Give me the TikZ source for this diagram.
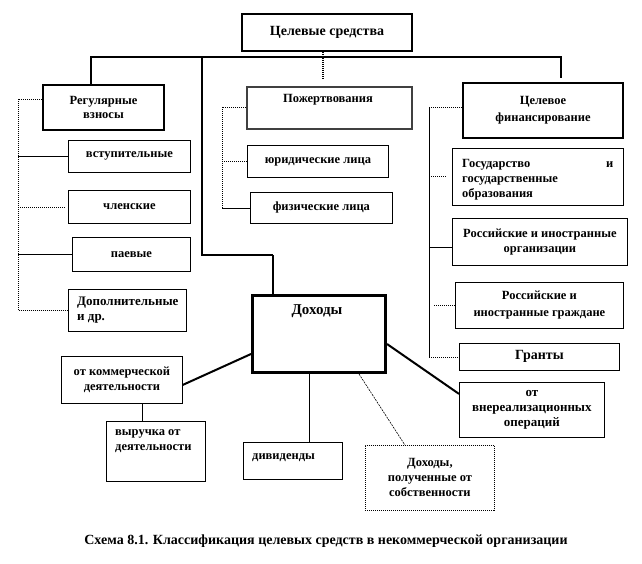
\documentclass[tikz,border=0pt]{standalone}
\usepackage{fontspec}
\setmainfont{Liberation Serif}
\begin{document}
\begin{tikzpicture}[x=1pt,y=-1pt,
  bx/.style={draw, line width=0.8pt, fill=white, anchor=north west, inner sep=0pt, align=center,
    font=\bfseries\fontsize{12.5}{15}\selectfont},
  hd/.style={bx, line width=2pt, font=\bfseries\fontsize{14}{17}\selectfont},
  txt/.style={inner sep=0pt, font=\bfseries\fontsize{12.5}{15}\selectfont},
  dots/.style={line width=0.8pt, dash pattern=on 1pt off 1pt},
  bus/.style={line width=2.4pt},
  thk/.style={line width=2pt},
  ln/.style={line width=0.8pt}]
\useasboundingbox (0,0) rectangle (642,564);
% top level
\node[hd, minimum width=170, minimum height=37] (top) at (241,13) {Целевые средства};
\node[hd, minimum width=121, minimum height=45, font=\bfseries\fontsize{12.5}{14}\selectfont] (reg) at (42,84) {Регулярные\\взносы};
\node[hd, draw=black!75, minimum width=165, minimum height=42] (pozh) at (246,86) {};
\node[txt] (pozhT) at (328,100) {Пожертвования};
\node[hd, minimum width=160, minimum height=55, font=\bfseries\fontsize{12.5}{17}\selectfont] (celfin) at (462,82) {Целевое\\финансирование};
% bus
\coordinate (busL) at (91,57);
\coordinate (busR) at (561,57);
\coordinate (busRend) at (561,78);
\coordinate (vL) at (202,57);
\coordinate (vK) at (202,255);
\coordinate (dohIn) at (273,255);
\coordinate (cd) at (323,80);
\draw[bus] (busL |- reg.north) -- (busL) -- (busR) -- (busRend);
\draw[thk] (vL) -- (vK) -- (dohIn);
\draw[line width=2.4pt, dash pattern=on 1pt off 1pt] (cd |- top.south) -- (cd);
% regular contributions
\node[bx, minimum width=122, minimum height=32] (vst) at (68,140) {вступительные};
\node[bx, minimum width=122, minimum height=33] (chl) at (68,190) {членские};
\node[bx, minimum width=118, minimum height=34] (pae) at (72,237) {паевые};
\node[bx, minimum width=118, minimum height=42] (dop) at (68,289) {};
\node[txt, anchor=west, align=left, font=\bfseries\fontsize{13}{15}\selectfont] (dopT) at (77,310) {Дополнительные\\и др.};
\coordinate (rb) at (18,99);
\draw[dots] (reg.west |- rb) -- (rb) -- (rb |- dop.west) -- (dop.west);
\draw[ln] (rb |- vst.west) -- (vst.west);
\draw[dots] (rb |- chl.west) -- ([xshift=-3pt]chl.west);
\draw[ln] (rb |- pae.west) -- (pae.west);
% donations
\node[bx, minimum width=141, minimum height=32] (yur) at (247,145) {юридические лица};
\node[bx, minimum width=142, minimum height=31] (fiz) at (250,192) {физические лица};
\coordinate (pb) at (222,107);
\draw[dots] (pozh.west |- pb) -- (pb) -- (pb |- fiz.west);
\draw[ln] (pb |- fiz.west) -- (fiz.west);
\draw[dots] (pb |- yur.west) -- (yur.west);
% targeted financing
\node[bx, minimum width=171, minimum height=57] (gos) at (452,148) {};
\node[txt, anchor=north west, align=left, font=\bfseries\fontsize{12.5}{15}\selectfont] (gosT) at (462,159) {\hbox to 151pt{Государство\hfill и}\\государственные\\образования};
\node[bx, minimum width=175, minimum height=47] (rosorg) at (452,218) {Российские и иностранные\\организации};
\node[bx, minimum width=168, minimum height=46, font=\bfseries\fontsize{12.5}{17}\selectfont] (rosgr) at (455,282) {Российские и\\иностранные граждане};
\node[bx, minimum width=160, minimum height=27, font=\bfseries\fontsize{14}{17}\selectfont] (granty) at (459,343) {Гранты};
\coordinate (cb) at (429,107);
\draw[dots] (celfin.west |- cb) -- (cb);
\draw[ln, line width=0.6pt] (cb) -- (cb |- granty.west);
\draw[dots] (cb |- granty.west) -- (granty.west);
\draw[dots] ([xshift=2pt]cb |- gos.west) -- ([xshift=-5pt]gos.west);
\draw[ln] ([yshift=-5pt]cb |- rosorg.west) -- ([yshift=-5pt]rosorg.west);
\draw[dots] ([xshift=5pt]cb |- rosgr.west) -- (rosgr.west);
% income
\node[bx, line width=3pt, minimum width=133, minimum height=77] (doh) at (251,294) {};
\node[txt, font=\bfseries\fontsize{15}{17}\selectfont] (dohT) at (317,311) {Доходы};
\draw[thk] (dohIn) -- (dohIn |- doh.north);
\node[bx, minimum width=121, minimum height=47] (kom) at (61,356) {от коммерческой\\деятельности};
\node[bx, minimum width=99, minimum height=60] (vyr) at (106,421) {};
\node[txt, anchor=north west, align=left] (vyrT) at (115,429) {выручка от\\деятельности};
\node[bx, minimum width=99, minimum height=37] (div) at (243,442) {};
\node[txt, anchor=west] (divT) at (252,458) {дивиденды};
\node[bx, dots, minimum width=129, minimum height=65] (sob) at (365,445) {Доходы,\\полученные от\\собственности};
\node[bx, minimum width=145, minimum height=55, font=\bfseries\fontsize{13}{15}\selectfont] (vner) at (459,382) {от\\внереализационных\\операций};
\draw[thk] ([yshift=20pt]doh.south west) -- ([yshift=-5pt]kom.east);
\draw[thk] ([yshift=-10pt]doh.east) -- ([yshift=16pt]vner.west);
\draw[ln] ([xshift=20pt]kom.south) -- ([xshift=20pt]kom.south |- vyr.north);
\draw[ln] ([xshift=-10pt]doh.south) -- ([xshift=-10pt]doh.south |- div.north);
\draw[line width=0.6pt, dash pattern=on 2pt off 1pt] ([xshift=40pt]doh.south) -- ([xshift=-25pt]sob.north);
% caption
\node[txt, font=\bfseries\fontsize{14}{16}\selectfont] (cap) at (326,541) {Схема 8.1. Классификация целевых средств в некоммерческой организации};
\end{tikzpicture}
\end{document}
